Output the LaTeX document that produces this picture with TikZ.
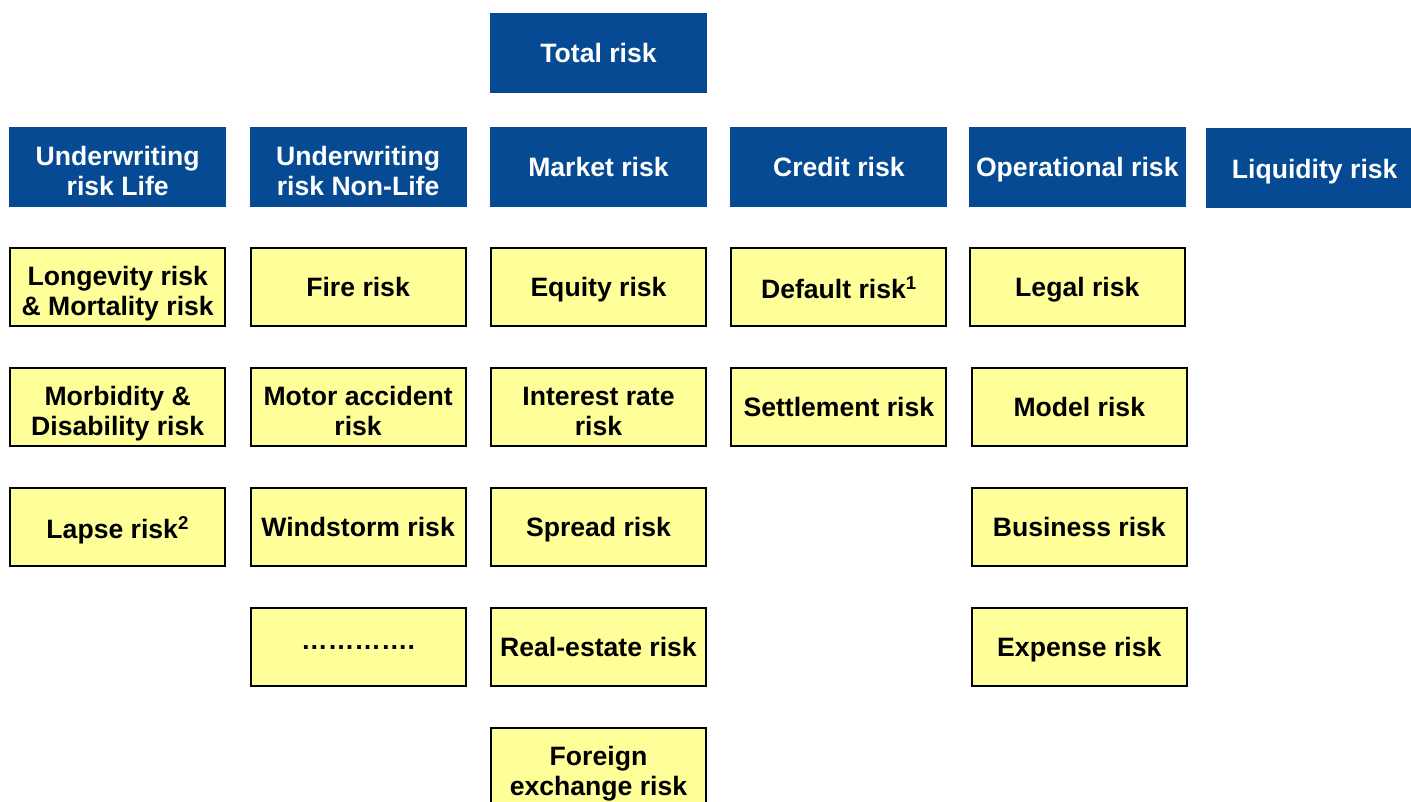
\documentclass[tikz,border=0pt]{standalone}
\usepackage{fontspec}
\setmainfont{Liberation Sans}
\usetikzlibrary{positioning}
\definecolor{headblue}{RGB}{5,74,147}
\definecolor{subyellow}{RGB}{255,255,153}
\newcommand{\toppad}{\rule{0pt}{27pt}}
\begin{document}
\begin{tikzpicture}[x=1pt, y=-1pt, node distance=40pt and 23pt]
\tikzstyle{box}=[rectangle, minimum width=217pt, minimum height=80pt, inner sep=2pt, align=center,
    text depth=-1.5pt, font=\fontsize{26.6}{30}\selectfont\bfseries]
\tikzstyle{head}=[box, fill=headblue, text=white]
\tikzstyle{sub}=[box, fill=subyellow, draw=black, line width=2pt, minimum width=215pt, minimum height=78pt]
\useasboundingbox (0,0) rectangle (1411,802);
    % top and risk categories
    \node [head] (total) at (598.5,53) {Total risk};
    \node [head] (market) at (598.5,167) {Market risk};
    \node [head, left=of market] (nonlife) {\toppad Underwriting\\risk Non-Life};
    \node [head, left=of nonlife] (life) {\toppad Underwriting\\risk Life};
    \node [head, right=of market] (credit) {Credit risk};
    \node [head, right=21pt of credit] (oper) {Operational risk};
    \node [head, right=20pt of oper, yshift=-1.5pt] (liquid) {Liquidity risk};
    % life
    \node [sub, below=of life] (longev) {\toppad Longevity risk\\\& Mortality risk};
    \node [sub, below=of longev] (morbid) {\toppad Morbidity \&\\Disability risk};
    \node [sub, below=of morbid] (lapse) {Lapse risk\textsuperscript{2}};
    % non-life
    \node [sub, below=of nonlife] (fire) {Fire risk};
    \node [sub, below=of fire] (motor) {\toppad Motor accident\\risk};
    \node [sub, below=of motor] (storm) {Windstorm risk};
    \node [sub, below=of storm] (more) {………….};
    % market
    \node [sub, below=of market] (equity) {Equity risk};
    \node [sub, below=of equity] (interest) {\toppad Interest rate\\risk};
    \node [sub, below=of interest] (spread) {Spread risk};
    \node [sub, below=of spread] (estate) {Real-estate risk};
    \node [sub, below=of estate] (forex) {\toppad Foreign\\exchange risk};
    % credit
    \node [sub, below=of credit] (default) {Default risk\textsuperscript{1}};
    \node [sub, below=of default] (settle) {Settlement risk};
    % operational
    \node [sub, below=of oper] (legal) {Legal risk};
    \node [sub, below=of legal, xshift=2pt] (model) {Model risk};
    \node [sub, below=of model] (business) {Business risk};
    \node [sub, below=of business] (expense) {Expense risk};
\end{tikzpicture}
\end{document}
